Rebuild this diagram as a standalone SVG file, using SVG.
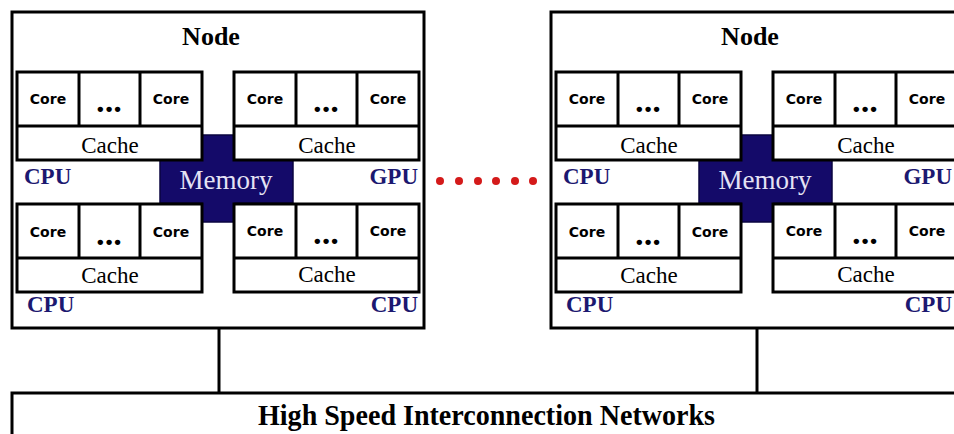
<svg xmlns="http://www.w3.org/2000/svg" width="954" height="434" viewBox="0 0 954 434">
<style>
.box{fill:#fff;stroke:#000;stroke-width:3}
.ln{fill:none;stroke:#000;stroke-width:3}
.mem{fill:#140a69;stroke:#0a0440;stroke-width:1.5}
.title{font-family:"Liberation Serif","Times New Roman",serif;font-weight:bold;font-size:26px;text-anchor:middle;fill:#000}
.core{font-family:"DejaVu Sans",Verdana,sans-serif;font-weight:bold;font-size:14px;text-anchor:middle;fill:#000}
.dots{font-family:"Liberation Sans",Arial,sans-serif;font-weight:bold;font-size:19px;text-anchor:middle;fill:#000;letter-spacing:2px}
.cache{font-family:"Liberation Serif","Times New Roman",serif;font-size:23px;text-anchor:middle;fill:#000}
.memt{font-family:"Liberation Serif","Times New Roman",serif;font-size:27px;text-anchor:middle;fill:#e4e2f4}
.lbl{font-family:"Liberation Serif","Times New Roman",serif;font-weight:bold;font-size:23px;fill:#1c1870}
.net{font-family:"Liberation Serif","Times New Roman",serif;font-weight:bold;font-size:30px;fill:#000}
</style>
<defs>
<g id="unitTop">
<rect class="box" x="0" y="0" width="185" height="88"/>
<line class="ln" x1="0" y1="54" x2="185" y2="54"/>
<line class="ln" x1="62" y1="0" x2="62" y2="54"/>
<line class="ln" x1="123" y1="0" x2="123" y2="54"/>
</g>
</defs>
<g id="connectors">
<line class="ln" x1="219" y1="328" x2="219" y2="393"/>
<line class="ln" x1="757" y1="328" x2="757" y2="393"/>
<g fill="#d41a1a">
<circle cx="440" cy="181" r="4"/>
<circle cx="459" cy="181" r="4"/>
<circle cx="478" cy="181" r="4"/>
<circle cx="496" cy="181" r="4"/>
<circle cx="515" cy="181" r="4"/>
<circle cx="533" cy="181" r="4"/>
</g>
</g>
<g id="node1">
<rect class="box" x="12" y="12" width="412" height="316"/>
<text class="title" x="211" y="45">Node</text>
<polygon class="mem" points="202,135 235,135 235,160 293,160 293,203 235,203 235,222 202,222 202,203 160,203 160,160 202,160"/>
<text class="memt" x="226" y="189">Memory</text>
<g id="node1-cpu1">
<use href="#unitTop" x="17" y="72"/>
<text class="core" x="48" y="104">Core</text>
<text class="dots" x="110" y="115">•••</text>
<text class="core" x="171" y="104">Core</text>
<text class="cache" x="110" y="153">Cache</text>
<text class="lbl" x="24" y="184">CPU</text>
</g>
<g id="node1-gpu">
<use href="#unitTop" x="234" y="72"/>
<text class="core" x="265" y="104">Core</text>
<text class="dots" x="327" y="115">•••</text>
<text class="core" x="388" y="104">Core</text>
<text class="cache" x="327" y="153">Cache</text>
<text class="lbl" x="418" y="184" text-anchor="end">GPU</text>
</g>
<g id="node1-cpu2">
<use href="#unitTop" x="17" y="204"/>
<text class="core" x="48" y="237">Core</text>
<text class="dots" x="110" y="248">•••</text>
<text class="core" x="171" y="237">Core</text>
<text class="cache" x="110" y="283">Cache</text>
<text class="lbl" x="27" y="312">CPU</text>
</g>
<g id="node1-cpu3">
<use href="#unitTop" x="234" y="204"/>
<text class="core" x="265" y="236">Core</text>
<text class="dots" x="327" y="247">•••</text>
<text class="core" x="388" y="236">Core</text>
<text class="cache" x="327" y="282">Cache</text>
<text class="lbl" x="418" y="312" text-anchor="end">CPU</text>
</g>
</g>
<g id="node2" transform="translate(539,0)">
<rect class="box" x="12" y="12" width="412" height="316"/>
<text class="title" x="211" y="45">Node</text>
<polygon class="mem" points="202,135 235,135 235,160 293,160 293,203 235,203 235,222 202,222 202,203 160,203 160,160 202,160"/>
<text class="memt" x="226" y="189">Memory</text>
<g id="node2-cpu1">
<use href="#unitTop" x="17" y="72"/>
<text class="core" x="48" y="104">Core</text>
<text class="dots" x="110" y="115">•••</text>
<text class="core" x="171" y="104">Core</text>
<text class="cache" x="110" y="153">Cache</text>
<text class="lbl" x="24" y="184">CPU</text>
</g>
<g id="node2-gpu">
<use href="#unitTop" x="234" y="72"/>
<text class="core" x="265" y="104">Core</text>
<text class="dots" x="327" y="115">•••</text>
<text class="core" x="388" y="104">Core</text>
<text class="cache" x="327" y="153">Cache</text>
<text class="lbl" x="413" y="184" text-anchor="end">GPU</text>
</g>
<g id="node2-cpu2">
<use href="#unitTop" x="17" y="204"/>
<text class="core" x="48" y="237">Core</text>
<text class="dots" x="110" y="248">•••</text>
<text class="core" x="171" y="237">Core</text>
<text class="cache" x="110" y="283">Cache</text>
<text class="lbl" x="27" y="312">CPU</text>
</g>
<g id="node2-cpu3">
<use href="#unitTop" x="234" y="204"/>
<text class="core" x="265" y="236">Core</text>
<text class="dots" x="327" y="247">•••</text>
<text class="core" x="388" y="236">Core</text>
<text class="cache" x="327" y="282">Cache</text>
<text class="lbl" x="413" y="312" text-anchor="end">CPU</text>
</g>
</g>
<g id="network">
<rect class="box" x="12" y="393" width="960" height="60"/>
<text class="net" x="258" y="425" textLength="457" lengthAdjust="spacingAndGlyphs">High Speed Interconnection Networks</text>
</g>
</svg>
